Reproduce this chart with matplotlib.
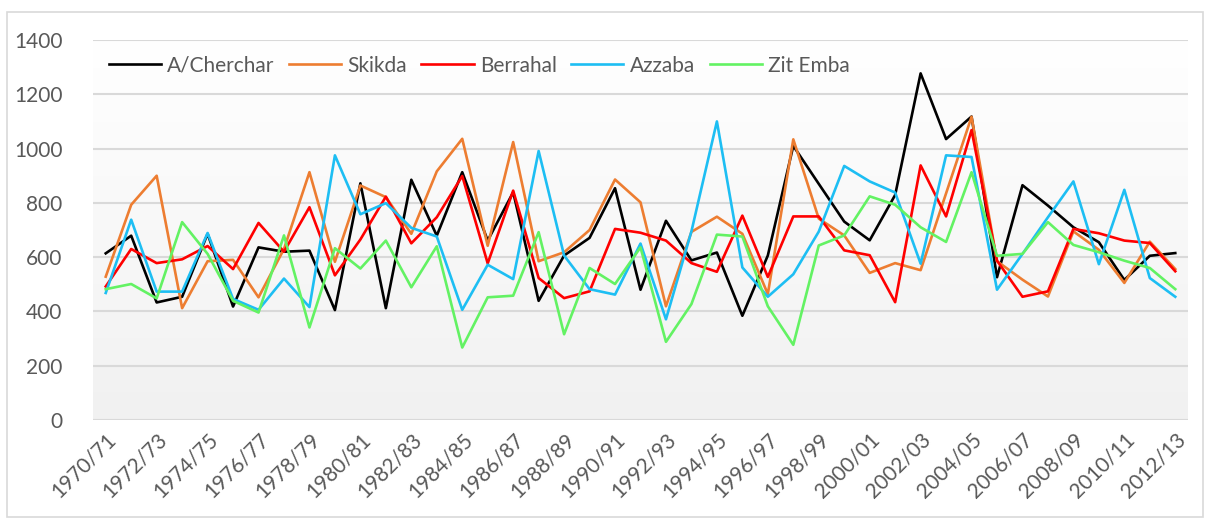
import numpy as np
import matplotlib
matplotlib.use("Agg")
import matplotlib.pyplot as plt
from matplotlib.patches import Rectangle

# Datos: precipitaciones anuales por estación (1970/71 - 2012/13)
anios = [f"{a}/{str(a + 1)[-2:]}" for a in range(1970, 2013)]

a_cherchar = [614, 679, 433, 454, 686, 418, 636, 620, 624, 405,
              872, 412, 885, 679, 913, 661, 839, 439, 606, 671,
              854, 480, 734, 588, 617, 384, 606, 1010, 870, 731,
              662, 829, 1277, 1035, 1118, 526, 865, 790, 710, 655,
              516, 605, 615]
skikda = [528, 793, 900, 412, 585, 590, 452, 630, 913, 583,
          864, 821, 686, 916, 1036, 642, 1024, 585, 618, 700,
          886, 802, 419, 693, 749, 686, 464, 1034, 742, 680,
          542, 578, 552, 835, 1117, 585, 517, 455, 695, 627,
          505, 657, 556]
berrahal = [492, 630, 578, 592, 641, 556, 726, 620, 784, 533,
            665, 823, 651, 747, 899, 577, 845, 523, 449, 474,
            704, 690, 661, 578, 546, 753, 527, 750, 750, 625,
            607, 434, 938, 750, 1068, 587, 454, 474, 704, 688,
            661, 652, 548]
azzaba = [468, 738, 473, 473, 689, 446, 406, 521, 416, 975,
          758, 799, 708, 676, 406, 572, 519, 991, 606, 482,
          462, 650, 371, 695, 1100, 562, 454, 537, 694, 936,
          879, 838, 576, 975, 969, 480, 612, 747, 879, 574,
          848, 523, 454]
zit_emba = [482, 501, 448, 729, 612, 439, 396, 680, 341, 633,
            558, 661, 489, 640, 267, 452, 458, 692, 316, 560,
            501, 636, 288, 427, 683, 676, 419, 277, 643, 680,
            824, 793, 710, 656, 913, 605, 612, 729, 645, 618,
            587, 560, 482]

series = [("A/Cherchar", a_cherchar, "#000000"),
          ("Skikda", skikda, "#ED7D31"),
          ("Berrahal", berrahal, "#FF0000"),
          ("Azzaba", azzaba, "#1DBEF3"),
          ("Zit Emba", zit_emba, "#63F263")]

plt.rcParams['font.family'] = ['Lato', 'DejaVu Sans']
gris = "#595959"

fig = plt.figure(figsize=(12.1, 5.21), dpi=100)
ax = fig.add_axes([93 / 1210, 1 - 420 / 521, 1095 / 1210, 380 / 521])

# borde exterior del gráfico
fig.patches.append(Rectangle((7 / 1210, 4 / 521), 1196 / 1210, 505 / 521,
                             transform=fig.transFigure, fill=False,
                             edgecolor="#d9d9d9", linewidth=1.2))

x = np.arange(len(anios))
for nombre, valores, color in series:
    ax.plot(x, valores, color=color, linewidth=1.9, label=nombre, zorder=3)

# fondo degradado del área de trazado
grad = np.linspace(1, 0, 256).reshape(-1, 1)
ax.imshow(grad, cmap=matplotlib.colors.LinearSegmentedColormap.from_list(
    "g", ["#f1f1f1", "#ffffff"]), aspect="auto",
    extent=(-0.5, len(anios) - 0.5, 0, 1400), zorder=0, vmin=0, vmax=1)

ax.set_xlim(-0.5, len(anios) - 0.5)
ax.set_ylim(0, 1400)
ax.set_yticks(range(0, 1401, 200))
ax.grid(axis="y", color="#d9d9d9", linewidth=1.5, zorder=1)
ax.set_axisbelow(True)
for s in ax.spines.values():
    s.set_visible(False)

ax.set_xticks(x[::2])
ax.set_xticklabels(anios[::2], rotation=45, ha="right",
                   rotation_mode="anchor", fontsize=15, color=gris)
ax.tick_params(axis="x", length=0, pad=7)
ax.tick_params(axis="y", length=0, labelsize=15, labelcolor=gris, pad=22)

ax.legend(loc="upper left", bbox_to_anchor=(0.0, 1.0), ncol=5,
          frameon=False, fontsize=15, labelcolor=gris, handlelength=2.5,
          handletextpad=0.3, columnspacing=0.7, borderaxespad=0.35)

plt.savefig("out.png", dpi=100)
